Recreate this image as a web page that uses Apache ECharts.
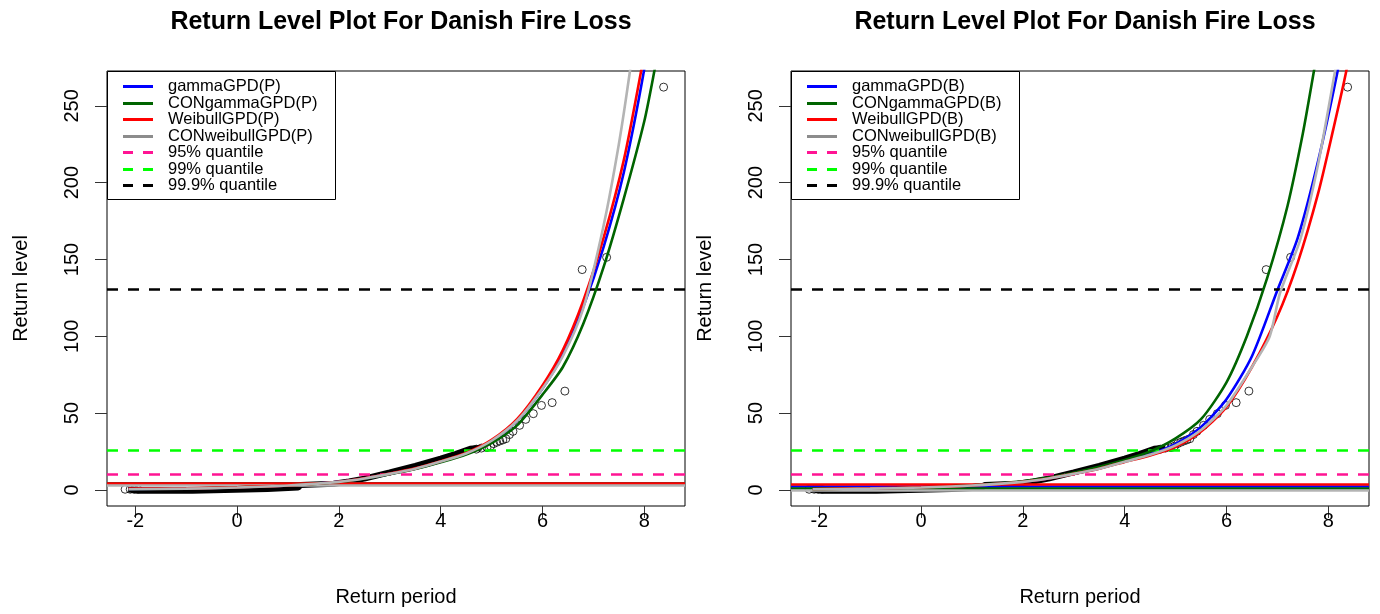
<!DOCTYPE html>
<html>
<head>
<meta charset="utf-8">
<script src="https://cdn.jsdelivr.net/npm/echarts@6/dist/echarts.min.js"></script>
<style>
html,body{margin:0;padding:0;background:#fff;}
#chart{width:1380px;height:614px;}
</style>
</head>
<body>
<div id="chart"></div>
<script>
// ---------- data ----------
const titleText = 'Return Level Plot For Danish Fire Loss';
const xAxisTitle = 'Return period';
const yAxisTitle = 'Return level';
const xTicks = [-2, 0, 2, 4, 6, 8];
const yTicks = [0, 50, 100, 150, 200, 250];

const namesP = ['gammaGPD(P)', 'CONgammaGPD(P)', 'WeibullGPD(P)', 'CONweibullGPD(P)'];
const namesB = ['gammaGPD(B)', 'CONgammaGPD(B)', 'WeibullGPD(B)', 'CONweibullGPD(B)'];
const quantileNames = ['95% quantile', '99% quantile', '99.9% quantile'];
const quantileValues = [10, 25.5, 130.5];

// horizontal model lines (one per model)
const thresholdsP = [4.4, 4.4, 4.4, 3.1];
const thresholdsB = [2.1, 1.0, 3.8, -0.3];

// empirical return levels: dense part (overlapping circles) and sparse circles
const empiricalDense = [[-2.13,0.3],[-1.9,-0.6],[-0.88,-0.6],[-0.85,0.5],[0.6,0.5],[0.62,1.3],[1.2,1.5],[1.25,3.2],[1.9,4.0],[2.2,5.5],[2.5,7.3],[3.0,11.4],[3.5,15.6],[4.0,20.3],[4.3,23.5],[4.58,26.8],[4.8,27.5]];
const empiricalPoints = [[-2.2,0.4],[-2.1,0.4],[-2.02,0.3],[-1.95,0.3],[4.7,26.5],[4.8,27.2],[4.91,27.5],[4.98,28.5],[5.04,30.1],[5.1,31.0],[5.16,31.8],[5.22,32.5],[5.28,33.3],[5.35,36.0],[5.42,38.1],[5.55,42.0],[5.67,45.9],[5.82,49.6],[5.98,55.0],[6.19,56.8],[6.44,64.3],[6.78,143.4],[7.26,151.4],[8.38,262.2]];

// fitted return level curves, panel (P)
const gammaP = [[-2.13,0.6],[-1,0.9],[0,1.6],[1,2.8],[2,5.2],[2.5,7.4],[3,10.4],[3.5,13.8],[4,18.3],[4.5,23.6],[5,31.5],[5.5,45],[6,66],[6.4,88],[6.8,119],[7.2,158],[7.6,207],[8,274],[8.1,300]];
const conGammaP = [[-2.13,0.6],[-1,0.9],[0,1.6],[1,2.8],[2,5.1],[2.5,7.2],[3,10.2],[3.5,13.6],[4,18.0],[4.5,23.0],[5,30.5],[5.5,42],[6,62],[6.4,80],[6.8,108],[7.2,145],[7.6,190],[8,240],[8.2,273],[8.35,300]];
const conWeibullP = [[-2.13,0.4],[-1,0.8],[0,1.5],[1,2.8],[2,5.2],[2.5,7.4],[3,10.4],[3.5,13.8],[4,18.4],[4.5,23.7],[5,32],[5.5,45],[6,66],[6.4,87],[6.8,118],[7.2,172],[7.5,225],[7.72,273],[7.8,295]];
const weibullP = [[-2.13,0.8],[-1,1.0],[0,1.7],[1,2.9],[2,5.3],[2.5,7.6],[3,10.6],[3.5,14.0],[4,18.6],[4.5,24.0],[5,32.5],[5.5,46],[6,68],[6.4,91],[6.8,123],[7.2,164],[7.6,215],[7.94,273],[8.05,295]];

// fitted return level curves, panel (B)
const gammaB = [[-2.13,0.6],[-1,1.0],[0,1.7],[1,2.9],[2,5.3],[2.5,7.5],[3,10.5],[3.5,14],[4,18.5],[4.5,23.2],[5,30],[5.5,41],[6,59],[6.5,87],[7,130],[7.4,164],[7.8,214],[8.18,272],[8.3,295]];
const conGammaB = [[-2.13,0.5],[-1,0.9],[0,1.6],[1,3.0],[2,5.6],[2.5,8.0],[3,11.2],[3.5,15],[4,19.5],[4.5,25],[5,33.5],[5.5,46],[6,70],[6.4,100],[6.8,138],[7.2,185],[7.5,232],[7.72,273],[7.85,298]];
const weibullB = [[-2.13,0.6],[-1,1.0],[0,1.7],[1,2.9],[2,5.2],[2.5,7.4],[3,10.4],[3.5,13.8],[4,18.2],[4.5,22.4],[5,28],[5.5,38],[6,54],[6.5,80],[7,113],[7.4,148],[7.8,193],[8.1,235],[8.35,272],[8.45,292]];
const conWeibullB = [[-2.13,0.4],[-1,0.8],[0,1.5],[1,2.8],[2,5.2],[2.5,7.4],[3,10.4],[3.5,13.8],[4,18.3],[4.5,22.8],[5,29],[5.5,39],[6,55],[6.5,80],[6.85,100],[7.05,128],[7.45,163],[7.8,212],[8.13,272],[8.25,295]];

// ---------- styles / layout ----------
const FONT = 'Liberation Sans, Arial, sans-serif';
const curveColors = ['#0000FF', '#006400', '#FF0000', '#B4B4B4'];
const legendCurveColors = ['#0000FF', '#006400', '#FF0000', '#8C8C8C'];
const quantileColors = ['#FF1493', '#00FF00', '#000000'];
const X_MIN = -2.556, X_MAX = 8.8, Y_MIN = -10.5, Y_MAX = 272.7;
const panels = [
  {left: 107, right: 695, names: namesP, curves: [gammaP, conGammaP, weibullP, conWeibullP], thr: thresholdsP},
  {left: 791, right: 11, names: namesB, curves: [gammaB, conGammaB, weibullB, conWeibullB], thr: thresholdsB}
];
const GRID_TOP = 71, GRID_BOTTOM = 108;

const chart = echarts.init(document.getElementById('chart'), null, {renderer: 'canvas'});

const grids = [], xAxes = [], yAxes = [], series = [], titles = [], graphics = [];

panels.forEach((p, gi) => {
  grids.push({left: p.left, right: p.right, top: GRID_TOP, bottom: GRID_BOTTOM, show: true,
    borderColor: '#000', borderWidth: 1, backgroundColor: 'transparent', containLabel: false});
  xAxes.push({type: 'value', gridIndex: gi, min: X_MIN, max: X_MAX, position: 'bottom',
    name: xAxisTitle, nameLocation: 'middle', nameGap: 81,
    nameTextStyle: {fontFamily: FONT, fontSize: 20, color: '#000'},
    axisLine: {show: false, onZero: false}, splitLine: {show: false},
    axisTick: {show: true, inside: false, length: 12, customValues: xTicks, lineStyle: {color: '#333', width: 1}},
    axisLabel: {show: true, margin: 5, customValues: xTicks, fontFamily: FONT, fontSize: 20, color: '#000',
      formatter: v => String(v)}
  });
  yAxes.push({type: 'value', gridIndex: gi, min: Y_MIN, max: Y_MAX, position: 'left',
    name: yAxisTitle, nameLocation: 'middle', nameGap: 76,
    nameTextStyle: {fontFamily: FONT, fontSize: 20, color: '#000'},
    axisLine: {show: false, onZero: false}, splitLine: {show: false},
    axisTick: {show: true, inside: false, length: 12, customValues: yTicks, lineStyle: {color: '#333', width: 1}},
    axisLabel: {show: true, margin: 25, rotate: 90, customValues: yTicks, fontFamily: FONT, fontSize: 20, color: '#000'}
  });

  const gridW = 1380 - p.left - p.right;
  titles.push({text: titleText, left: p.left + gridW / 2, top: 5, textAlign: 'center',
    textStyle: {fontFamily: FONT, fontSize: 25, fontWeight: 'bold', color: '#000'}});

  // empirical points
  series.push({type: 'line', name: 'empirical band', xAxisIndex: gi, yAxisIndex: gi,
    data: empiricalDense, showSymbol: false, symbol: 'none', z: 2,
    lineStyle: {color: '#000', width: 6}, silent: true, animation: false});
  series.push({type: 'scatter', name: 'empirical', xAxisIndex: gi, yAxisIndex: gi,
    data: empiricalPoints, symbol: 'circle', symbolSize: 8, z: 3,
    itemStyle: {color: 'rgba(0,0,0,0)', borderColor: '#000', borderWidth: 1}, silent: true, animation: false});

  // fitted curves + horizontal model lines
  p.curves.forEach((c, ci) => {
    series.push({type: 'line', name: p.names[ci], xAxisIndex: gi, yAxisIndex: gi,
      data: c, smooth: 0.25, showSymbol: false, symbol: 'none', clip: true, z: 4 + ci,
      lineStyle: {color: curveColors[ci], width: 2.6}, silent: true, animation: false,
      markLine: {symbol: 'none', silent: true, animation: false, label: {show: false},
        lineStyle: {color: curveColors[ci], width: 2.6, type: 'solid'},
        data: [{yAxis: p.thr[ci]}]}
    });
  });

  // quantile reference lines
  quantileNames.forEach((qn, qi) => {
    series.push({type: 'line', name: qn, xAxisIndex: gi, yAxisIndex: gi, data: [], z: 10,
      silent: true, animation: false,
      markLine: {symbol: 'none', silent: true, animation: false, label: {show: false},
        lineStyle: {color: quantileColors[qi], width: 2.6, type: [11, 10]},
        data: [{yAxis: quantileValues[qi]}]}
    });
  });

  // legend box (drawn as graphic)
  const boxX = p.left, boxY = GRID_TOP, boxW = 228, boxH = 128;
  const legNames = p.names.concat(quantileNames);
  const legColors = legendCurveColors.concat(quantileColors);
  graphics.push({type: 'rect', z: 100, shape: {x: boxX + 0.5, y: boxY + 0.5, width: boxW, height: boxH},
    style: {fill: '#fff', stroke: '#000', lineWidth: 1}});
  legNames.forEach((n, i) => {
    const yy = Math.round(86 + 16.5 * i) + 0.5;
    graphics.push({type: 'line', z: 101, shape: {x1: boxX + 16, y1: yy, x2: boxX + 46, y2: yy},
      style: {stroke: legColors[i], lineWidth: 3, lineDash: i >= 4 ? [10, 10] : null}});
    graphics.push({type: 'text', z: 101, style: {text: n, x: boxX + 61, y: yy, font: '16.5px ' + FONT,
      fill: '#000', verticalAlign: 'middle', align: 'left'}});
  });
});

chart.setOption({
  animation: false,
  backgroundColor: '#fff',
  title: titles,
  grid: grids,
  xAxis: xAxes,
  yAxis: yAxes,
  series: series,
  graphic: graphics
});
</script>
</body>
</html>
